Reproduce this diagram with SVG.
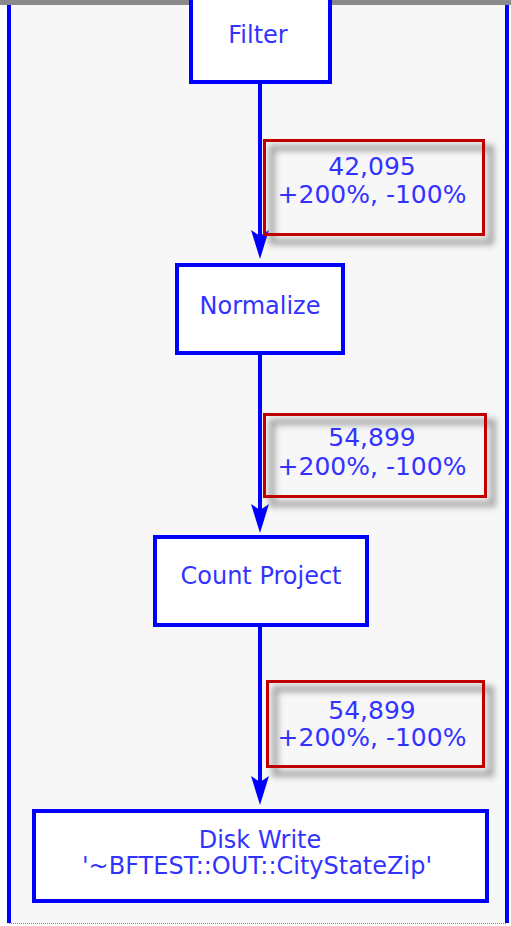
<svg xmlns="http://www.w3.org/2000/svg" width="511" height="926" viewBox="0 0 511 926">
<defs>
<style>
.node{fill:#ffffff;stroke:#0000ff;stroke-width:4}
.lbl{fill:none;stroke:#c00000;stroke-width:3}
.shd{fill:none;stroke:#888888;stroke-width:6;opacity:0.75;filter:url(#blur)}
.t{font-family:"DejaVu Sans",Verdana,sans-serif;font-size:24px;fill:#3333ff;text-anchor:middle}
.t2{font-size:25px}
.edge{stroke:#0000ff;stroke-width:4;fill:none}
.head{fill:#0000ff}
</style>
<filter id="blur" x="-20%" y="-20%" width="140%" height="140%"><feGaussianBlur stdDeviation="3"/></filter>
</defs>
<rect x="0" y="0" width="511" height="926" fill="#ffffff"/>
<rect x="9" y="4" width="498" height="919" fill="#f7f7f7"/>
<rect x="0" y="0" width="511" height="5" fill="#8a8a8a"/>
<line x1="9" y1="5" x2="9" y2="923" stroke="#0000ff" stroke-width="4"/>
<line x1="507" y1="5" x2="507" y2="923" stroke="#0000ff" stroke-width="4"/>
<line x1="9" y1="923.5" x2="507" y2="923.5" stroke="#7070ff" stroke-width="1" stroke-dasharray="1,1"/>
<g id="connectors">
<line class="edge" x1="260" y1="84" x2="260" y2="250"/>
<path class="head" d="M251,230 L260,236 L269,230 L260,259 Z"/>
<line class="edge" x1="260" y1="355" x2="260" y2="524"/>
<path class="head" d="M251,504 L260,510 L269,504 L260,533 Z"/>
<line class="edge" x1="260" y1="627" x2="260" y2="796"/>
<path class="head" d="M251,776 L260,782 L269,776 L260,805 Z"/>
</g>
<g id="label1">
<rect class="shd" x="272" y="148" width="219" height="94"/>
<rect class="lbl" x="264.5" y="140.5" width="219" height="94"/>
<text class="t t2" x="372" y="175">42,095</text>
<text class="t t2" x="372" y="203">+200%, -100%</text>
</g>
<g id="label2">
<rect class="shd" x="272" y="422" width="221" height="82"/>
<rect class="lbl" x="264.5" y="414.5" width="221" height="82"/>
<text class="t t2" x="372" y="446">54,899</text>
<text class="t t2" x="372" y="475">+200%, -100%</text>
</g>
<g id="label3">
<rect class="shd" x="275" y="689" width="216" height="85"/>
<rect class="lbl" x="267.5" y="681.5" width="216" height="85"/>
<text class="t t2" x="372" y="719">54,899</text>
<text class="t t2" x="372" y="746">+200%, -100%</text>
</g>
<g id="filter">
<rect class="node" x="191" y="-10" width="139" height="92"/>
<text class="t" x="258" y="43">Filter</text>
</g>
<g id="normalize">
<rect class="node" x="177" y="265" width="166" height="88"/>
<text class="t" x="260" y="314">Normalize</text>
</g>
<g id="countproject">
<rect class="node" x="155" y="537" width="212" height="88"/>
<text class="t" x="261" y="584">Count Project</text>
</g>
<g id="diskwrite">
<rect class="node" x="34" y="811" width="453" height="90"/>
<text class="t" x="260" y="848">Disk Write</text>
<text class="t" x="257" y="874">'~BFTEST::OUT::CityStateZip'</text>
</g>
</svg>
